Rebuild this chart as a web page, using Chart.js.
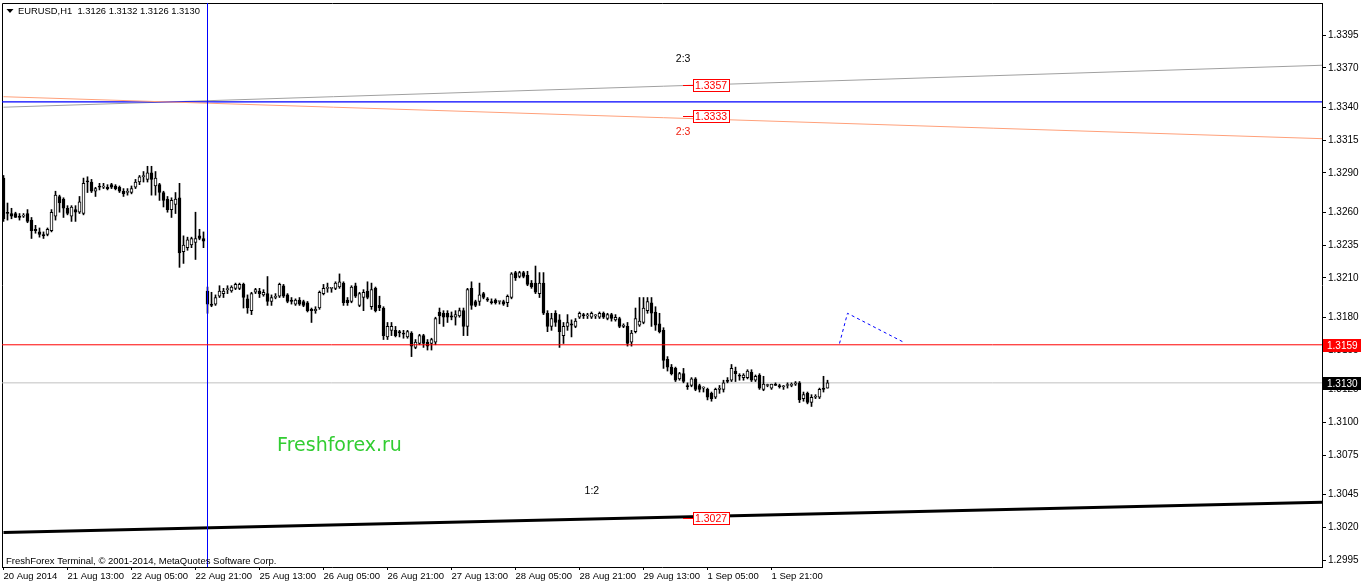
<!DOCTYPE html>
<html><head><meta charset="utf-8">
<script src="https://cdn.jsdelivr.net/npm/chart.js@4.4.1/dist/chart.umd.min.js"></script>
<style>html,body{margin:0;padding:0;background:#fff;overflow:hidden}#wrap{position:relative;width:1362px;height:586px;background:#fff}</style>
</head><body><div id="wrap"><canvas id="c" width="1362" height="586"></canvas></div>
<script>
// ---- data (EURUSD H1, bar 0 = 20 Aug 2014 21:00) ----
const symbolTitle = 'EURUSD,H1';
const opens = [
1.3286,1.3260,1.3259,1.3259,1.3257,1.3257,1.3259,1.3254,1.3247,1.3245,
1.3243,1.3243,1.3246,1.3257,1.3272,1.3270,1.3263,1.3257,1.3262,1.3260,
1.3259,1.3284,1.3283,1.3276,1.3280,1.3279,1.3279,1.3281,1.3280,1.3279,
1.3276,1.3275,1.3275,1.3279,1.3283,1.3287,1.3285,1.3290,1.3280,1.3281,
1.3275,1.3270,1.3262,1.3266,1.3271,1.3230,1.3233,1.3235,1.3237,1.3242,
1.3240,1.3200,1.3190,1.3190,1.3196,1.3198,1.3201,1.3200,1.3202,1.3202,
1.3205,1.3194,1.3185,1.3199,1.3200,1.3197,1.3198,1.3192,1.3195,1.3196,
1.3204,1.3197,1.3193,1.3190,1.3193,1.3192,1.3191,1.3186,1.3185,1.3187,
1.3198,1.3202,1.3202,1.3202,1.3203,1.3206,1.3193,1.3192,1.3204,1.3189,
1.3195,1.3200,1.3188,1.3202,1.3189,1.3187,1.3165,1.3170,1.3170,1.3169,
1.3168,1.3165,1.3168,1.3157,1.3160,1.3166,1.3161,1.3160,1.3161,1.3184,
1.3183,1.3183,1.3181,1.3180,1.3181,1.3185,1.3173,1.3202,1.3192,1.3192,
1.3198,1.3194,1.3192,1.3193,1.3192,1.3192,1.3191,1.3195,1.3214,1.3211,
1.3214,1.3212,1.3206,1.3206,1.3198,1.3206,1.3183,1.3173,1.3183,1.3178,
1.3166,1.3173,1.3175,1.3173,1.3180,1.3182,1.3181,1.3180,1.3181,1.3180,
1.3183,1.3179,1.3182,1.3178,1.3179,1.3173,1.3173,1.3161,1.3169,1.3174,
1.3176,1.3185,1.3191,1.3184,1.3175,1.3170,1.3148,1.3142,1.3141,1.3133,
1.3137,1.3128,1.3128,1.3133,1.3128,1.3126,1.3125,1.3122,1.3119,1.3125,
1.3125,1.3132,1.3132,1.3139,1.3136,1.3134,1.3134,1.3138,1.3132,1.3136,
1.3125,1.3128,1.3126,1.3129,1.3128,1.3127,1.3128,1.3128,1.3129,1.3130,
1.3118,1.3122,1.3115,1.3119,1.3119,1.3126,1.3126];
const highs = [
1.3288,1.3267,1.3263,1.3260,1.3259,1.3259,1.3262,1.3256,1.3250,1.3248,
1.3245,1.3248,1.3262,1.3276,1.3273,1.3271,1.3265,1.3265,1.3265,1.3272,
1.3286,1.3287,1.3285,1.3279,1.3282,1.3282,1.3281,1.3282,1.3281,1.3280,
1.3278,1.3278,1.3280,1.3285,1.3288,1.3291,1.3295,1.3295,1.3291,1.3282,
1.3276,1.3272,1.3271,1.3275,1.3282,1.3242,1.3241,1.3241,1.3260,1.3247,
1.3245,1.3203,1.3199,1.3197,1.3204,1.3202,1.3204,1.3204,1.3206,1.3206,
1.3206,1.3197,1.3199,1.3202,1.3202,1.3201,1.3211,1.3197,1.3198,1.3206,
1.3205,1.3198,1.3195,1.3194,1.3195,1.3193,1.3192,1.3187,1.3188,1.3200,
1.3205,1.3206,1.3202,1.3207,1.3213,1.3207,1.3195,1.3204,1.3206,1.3199,
1.3201,1.3207,1.3206,1.3203,1.3196,1.3188,1.3176,1.3176,1.3173,1.3170,
1.3170,1.3170,1.3169,1.3163,1.3167,1.3167,1.3163,1.3164,1.3180,1.3187,
1.3185,1.3185,1.3184,1.3185,1.3187,1.3187,1.3202,1.3207,1.3193,1.3206,
1.3199,1.3195,1.3194,1.3194,1.3192,1.3193,1.3197,1.3214,1.3215,1.3215,
1.3215,1.3215,1.3208,1.3219,1.3214,1.3214,1.3185,1.3183,1.3185,1.3182,
1.3176,1.3182,1.3178,1.3179,1.3184,1.3183,1.3183,1.3184,1.3182,1.3184,
1.3184,1.3183,1.3183,1.3182,1.3180,1.3175,1.3176,1.3170,1.3187,1.3195,
1.3195,1.3195,1.3195,1.3188,1.3183,1.3172,1.3150,1.3144,1.3142,1.3138,
1.3141,1.3130,1.3134,1.3134,1.3129,1.3127,1.3126,1.3123,1.3126,1.3128,
1.3132,1.3134,1.3144,1.3142,1.3137,1.3137,1.3140,1.3140,1.3136,1.3137,
1.3135,1.3129,1.3129,1.3130,1.3129,1.3128,1.3130,1.3130,1.3131,1.3131,
1.3123,1.3123,1.3121,1.3121,1.3126,1.3135,1.3132];
const lows = [
1.3253,1.3254,1.3255,1.3256,1.3254,1.3256,1.3252,1.3240,1.3244,1.3241,
1.3240,1.3242,1.3245,1.3254,1.3260,1.3256,1.3258,1.3253,1.3253,1.3259,
1.3258,1.3275,1.3275,1.3272,1.3277,1.3278,1.3277,1.3278,1.3277,1.3275,
1.3272,1.3273,1.3274,1.3278,1.3281,1.3283,1.3283,1.3273,1.3273,1.3269,
1.3264,1.3260,1.3256,1.3259,1.3218,1.3221,1.3231,1.3233,1.3224,1.3239,
1.3233,1.3183,1.3188,1.3189,1.3195,1.3195,1.3198,1.3199,1.3201,1.3201,
1.3187,1.3183,1.3182,1.3198,1.3195,1.3196,1.3189,1.3189,1.3194,1.3195,
1.3195,1.3191,1.3190,1.3189,1.3189,1.3188,1.3184,1.3176,1.3183,1.3186,
1.3197,1.3199,1.3199,1.3201,1.3202,1.3189,1.3189,1.3191,1.3195,1.3188,
1.3185,1.3194,1.3186,1.3184,1.3185,1.3163,1.3163,1.3166,1.3165,1.3165,
1.3164,1.3164,1.3150,1.3156,1.3159,1.3157,1.3155,1.3155,1.3159,1.3175,
1.3173,1.3176,1.3178,1.3174,1.3180,1.3166,1.3166,1.3186,1.3188,1.3189,
1.3194,1.3192,1.3190,1.3190,1.3190,1.3189,1.3188,1.3194,1.3208,1.3210,
1.3210,1.3204,1.3202,1.3198,1.3195,1.3182,1.3169,1.3170,1.3173,1.3157,
1.3160,1.3170,1.3165,1.3172,1.3179,1.3179,1.3179,1.3179,1.3179,1.3179,
1.3179,1.3178,1.3177,1.3177,1.3172,1.3172,1.3158,1.3158,1.3168,1.3173,
1.3175,1.3183,1.3173,1.3170,1.3168,1.3141,1.3139,1.3136,1.3131,1.3132,
1.3130,1.3125,1.3127,1.3124,1.3123,1.3123,1.3117,1.3116,1.3118,1.3122,
1.3123,1.3130,1.3131,1.3131,1.3132,1.3132,1.3133,1.3131,1.3131,1.3125,
1.3124,1.3127,1.3125,1.3128,1.3126,1.3125,1.3126,1.3127,1.3128,1.3115,
1.3116,1.3114,1.3112,1.3118,1.3118,1.3123,1.3126];
const closes = [
1.3255,1.3259,1.3257,1.3256,1.3256,1.3257,1.3253,1.3246,1.3246,1.3243,
1.3242,1.3247,1.3260,1.3273,1.3267,1.3263,1.3259,1.3264,1.3260,1.3268,
1.3282,1.3283,1.3276,1.3278,1.3279,1.3280,1.3278,1.3279,1.3278,1.3276,
1.3274,1.3276,1.3278,1.3283,1.3287,1.3288,1.3290,1.3285,1.3286,1.3275,
1.3269,1.3262,1.3269,1.3270,1.3229,1.3235,1.3239,1.3240,1.3240,1.3240,
1.3238,1.3190,1.3189,1.3195,1.3200,1.3200,1.3201,1.3203,1.3205,1.3205,
1.3195,1.3187,1.3198,1.3201,1.3198,1.3199,1.3192,1.3195,1.3196,1.3205,
1.3196,1.3192,1.3192,1.3193,1.3190,1.3189,1.3185,1.3185,1.3186,1.3199,
1.3202,1.3202,1.3202,1.3206,1.3207,1.3191,1.3191,1.3203,1.3196,1.3198,
1.3199,1.3195,1.3201,1.3185,1.3187,1.3166,1.3173,1.3173,1.3166,1.3168,
1.3167,1.3169,1.3158,1.3161,1.3166,1.3160,1.3158,1.3163,1.3179,1.3181,
1.3180,1.3180,1.3180,1.3182,1.3185,1.3173,1.3201,1.3189,1.3189,1.3197,
1.3195,1.3193,1.3191,1.3191,1.3192,1.3190,1.3196,1.3213,1.3210,1.3214,
1.3211,1.3205,1.3203,1.3199,1.3206,1.3183,1.3173,1.3179,1.3176,1.3169,
1.3173,1.3176,1.3174,1.3177,1.3183,1.3181,1.3181,1.3183,1.3181,1.3183,
1.3180,1.3182,1.3179,1.3180,1.3173,1.3174,1.3160,1.3168,1.3179,1.3177,
1.3187,1.3192,1.3183,1.3174,1.3169,1.3147,1.3142,1.3137,1.3132,1.3137,
1.3131,1.3127,1.3133,1.3125,1.3125,1.3126,1.3119,1.3118,1.3125,1.3126,
1.3130,1.3131,1.3141,1.3137,1.3135,1.3136,1.3139,1.3132,1.3135,1.3126,
1.3129,1.3128,1.3129,1.3128,1.3127,1.3127,1.3128,1.3129,1.3130,1.3117,
1.3121,1.3115,1.3119,1.3119,1.3125,1.3125,1.3130];

const tickIndex  = [0,16,32,48,64,80,96,112,128,144,160,176,192];
const tickLabels = ['20 Aug 2014','21 Aug 13:00','22 Aug 05:00','22 Aug 21:00','25 Aug 13:00',
  '26 Aug 05:00','26 Aug 21:00','27 Aug 13:00','28 Aug 05:00','28 Aug 21:00','29 Aug 13:00',
  '1 Sep 05:00','1 Sep 21:00'];
const priceTicks = [1.3395,1.3370,1.3340,1.3315,1.3290,1.3260,1.3235,1.3210,1.3180,1.3155,
  1.3125,1.3100,1.3075,1.3045,1.3020,1.2995];

const blueLevel = 1.3344;
const redLevel  = 1.3159;
const bidLevel  = 1.3130;
const vLineBar  = 51;
const greyTrend   = [{x:0, y:1.3340}, {x:330, y:1.3372}];
const salmonTrend = [{x:0, y:1.3348}, {x:330, y:1.3316}];
const blackTrend  = [{x:0, y:1.3016}, {x:330, y:1.3039}];
const projection  = [{x:209, y:1.3160}, {x:211, y:1.3183}, {x:225, y:1.3161}];
const trendTags   = [1.3357, 1.3333, 1.3027];
const tagBar = 170;
const lastBar = {o:1.3126, h:1.3132, l:1.3126, c:1.3130};

// ---- view settings ----
const xMin = -0.375, xMax = 329.625;
const yMin = 1.29897, yMax = 1.34194;
const FONT = "'Liberation Sans', Arial, sans-serif";
Chart.defaults.font.family = FONT;

const wickData = highs.map((h, i) => ({x: i, y: [lows[i], h]}));
const bodyData = opens.map((o, i) => ({x: i, y: [o, closes[i]]}));
const bodyFill = opens.map((o, i) => closes[i] >= o ? '#ffffff' : '#000000');
const wide = v => [{x: -5, y: v}, {x: 340, y: v}];

const overlay = {
  id: 'overlay',
  beforeDatasetsDraw(chart) {
    const {ctx, chartArea: a} = chart;
    ctx.save();
    ctx.strokeStyle = '#000'; ctx.lineWidth = 1;
    ctx.beginPath();
    ctx.moveTo(a.left + 0.5, a.bottom); ctx.lineTo(a.left + 0.5, a.top + 0.5); ctx.lineTo(a.right, a.top + 0.5);
    ctx.stroke();
    ctx.restore();
  },
  afterDatasetsDraw(chart) {
    const {ctx, scales: {x, y}} = chart;
    ctx.save();
    ctx.textBaseline = 'middle';
    // trend line price tags
    trendTags.forEach(v => {
      const px = Math.round(x.getPixelForValue(tagBar));
      const py = Math.round(y.getPixelForValue(v));
      ctx.strokeStyle = '#FF0000'; ctx.lineWidth = 1;
      ctx.beginPath(); ctx.moveTo(px, py + 0.5); ctx.lineTo(px + 10, py + 0.5); ctx.stroke();
      ctx.fillStyle = '#fff';
      ctx.fillRect(px + 10, py - 6, 37, 13);
      ctx.strokeRect(px + 10.5, py - 5.5, 36, 12);
      ctx.fillStyle = '#FF0000'; ctx.font = '10.5px ' + FONT; ctx.textAlign = 'left';
      ctx.fillText(v.toFixed(4), px + 12, py + 1);
    });
    // ratio texts
    ctx.textAlign = 'center'; ctx.font = '10.5px ' + FONT;
    ctx.fillStyle = '#000';
    ctx.fillText('2:3', x.getPixelForValue(169.9), y.getPixelForValue(1.33767));
    ctx.fillText('1:2', x.getPixelForValue(147.1), y.getPixelForValue(1.30476));
    ctx.fillStyle = '#F02010';
    ctx.fillText('2:3', x.getPixelForValue(169.9), y.getPixelForValue(1.33211));
    // watermark
    ctx.textAlign = 'left'; ctx.fillStyle = '#32CD32';
    ctx.font = "19px 'DejaVu Sans', Verdana, sans-serif";
    ctx.fillText('Freshforex.ru', x.getPixelForValue(68.4), y.getPixelForValue(1.30820));
    ctx.restore();
  },
  afterDraw(chart) {
    const {ctx, scales: {y}} = chart;
    ctx.save();
    ctx.textBaseline = 'middle'; ctx.textAlign = 'left';
    ctx.font = '9.4px ' + FONT;
    // header
    ctx.fillStyle = '#000';
    ctx.beginPath(); ctx.moveTo(6.5, 9); ctx.lineTo(13.5, 9); ctx.lineTo(10, 13); ctx.closePath(); ctx.fill();
    ctx.fillText(symbolTitle + '  ' + [lastBar.o, lastBar.h, lastBar.l, lastBar.c].map(v => v.toFixed(4)).join(' '), 18, 11);
    ctx.font = '9.5px ' + FONT;
    ctx.fillText('FreshForex Terminal, \u00A9 2001-2014, MetaQuotes Software Corp.', 6, 561);
    // axis price boxes
    ctx.font = '10px ' + FONT;
    [[redLevel, '#FF0000'], [bidLevel, '#000000']].forEach(([v, col]) => {
      const py = Math.round(y.getPixelForValue(v));
      ctx.fillStyle = col;
      ctx.fillRect(1323, py - 6, 38, 13);
      ctx.fillStyle = '#fff';
      ctx.fillText(v.toFixed(4), 1327, py + 1);
    });
    ctx.restore();
  }
};

new Chart(document.getElementById('c'), {
  type: 'bar',
  data: {
    datasets: [
      {type: 'line', label: 'bid', data: wide(bidLevel), borderColor: '#C0C0C0', borderWidth: 1, pointRadius: 0, order: 10},
      {label: 'wicks', data: wickData, backgroundColor: '#000', borderWidth: 0, barThickness: 1, grouped: false, order: 6},
      {label: 'bodies', data: bodyData, backgroundColor: bodyFill, borderColor: '#000', borderWidth: 1,
       borderSkipped: false, barThickness: 3, minBarLength: 1, grouped: false, order: 5},
      {type: 'line', label: 'grey trend', data: greyTrend, borderColor: '#A0A0A0', borderWidth: 1, pointRadius: 0, order: 4},
      {type: 'line', label: 'blue level', data: wide(blueLevel), borderColor: '#0000FF', borderWidth: 1.3, pointRadius: 0, order: 3},
      {type: 'line', label: 'salmon trend', data: salmonTrend, borderColor: '#FFA07A', borderWidth: 1, pointRadius: 0, order: 2},
      {type: 'line', label: 'black trend', data: blackTrend, borderColor: '#000000', borderWidth: 3, pointRadius: 0, order: 2},
      {type: 'line', label: 'red level', data: wide(redLevel), borderColor: '#FF0000', borderWidth: 1, pointRadius: 0, order: 1},
      {type: 'line', label: 'vline', data: [{x: vLineBar, y: 1.25}, {x: vLineBar, y: 1.40}], borderColor: '#0000FF', borderWidth: 1, pointRadius: 0, order: 1},
      {type: 'line', label: 'projection', data: projection, borderColor: '#0000FF', borderWidth: 1, borderDash: [3, 3], pointRadius: 0, order: 0}
    ]
  },
  options: {
    responsive: false, animation: false, devicePixelRatio: 1, events: [],
    layout: {padding: {left: 2, top: 3, right: 0, bottom: 0}},
    plugins: {legend: {display: false}, tooltip: {enabled: false}},
    scales: {
      x: {
        type: 'linear', position: 'bottom', min: xMin, max: xMax, offset: false, bounds: 'data',
        afterBuildTicks: s => { s.ticks = tickIndex.map(v => ({value: v})); },
        afterFit: s => { s.height = 19; s.paddingLeft = 0; s.paddingRight = 0; },
        ticks: {color: '#000', font: {size: 9.5}, align: 'start', maxRotation: 0, minRotation: 0, autoSkip: false, padding: 1,
                callback: (v, i) => tickLabels[i]},
        grid: {drawOnChartArea: false, drawTicks: true, tickLength: 3, color: '#000', offset: false},
        border: {display: true, color: '#000'}
      },
      y: {
        type: 'linear', position: 'right', min: yMin, max: yMax, bounds: 'data',
        afterBuildTicks: s => { s.ticks = priceTicks.map(v => ({value: v})); },
        afterFit: s => { s.width = 40; s.paddingTop = 0; s.paddingBottom = 0; },
        ticks: {color: '#000', font: {size: 10}, padding: 2, autoSkip: false, callback: v => Number(v).toFixed(4)},
        grid: {drawOnChartArea: false, drawTicks: true, tickLength: 4, color: '#000'},
        border: {display: true, color: '#000'}
      }
    }
  },
  plugins: [overlay]
});
</script>
</body></html>
